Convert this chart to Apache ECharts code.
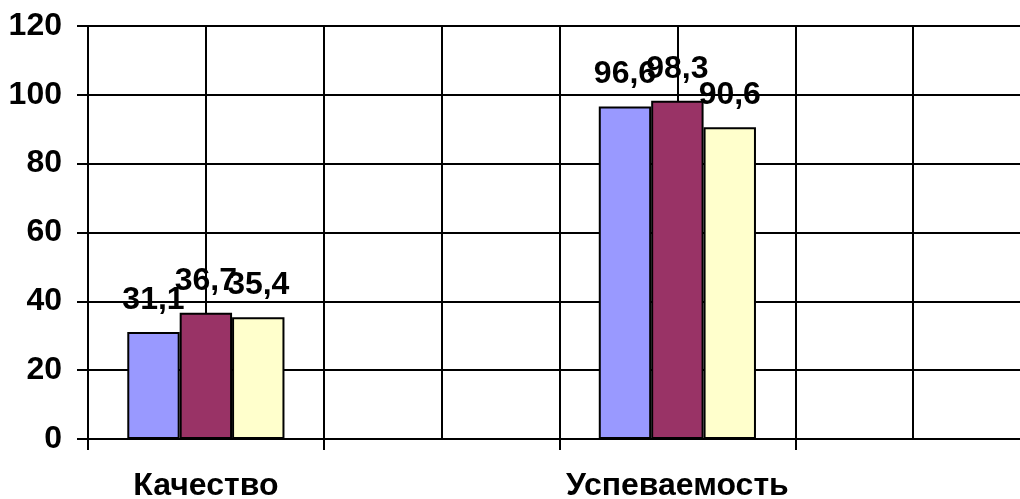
<!DOCTYPE html>
<html>
<head>
<meta charset="utf-8">
<script src="https://cdn.jsdelivr.net/npm/echarts@6/dist/echarts.min.js"></script>
<style>
html,body{margin:0;padding:0;background:#fff;}
#chart{width:1020px;height:499px;}
</style>
</head>
<body>
<div id="chart"></div>
<script>
var categories = ['Качество', '', 'Успеваемость', ''];
var seriesNames = ['Ряд 1', 'Ряд 2', 'Ряд 3'];
var series1 = [31.1, null, 96.6, null];
var series2 = [36.7, null, 98.3, null];
var series3 = [35.4, null, 90.6, null];
var gridCells = ['', '', '', '', '', '', '', ''];
var yTicks = { min: 0, max: 120, interval: 20 };
var colors = ['#9999FF', '#993366', '#FFFFCC'];

var FONT = '"Liberation Sans", Arial, sans-serif';
var FS = 32;
var labelStyle = {
  show: true,
  position: 'top',
  distance: 16,
  fontFamily: FONT,
  fontWeight: 'bold',
  fontSize: FS,
  color: '#000',
  formatter: function (p) { return String(p.value).replace('.', ','); }
};

function mk(name, data, color) {
  return {
    name: name,
    type: 'bar',
    data: data,
    xAxisIndex: 0,
    barGap: '0%',
    barCategoryGap: '33.33%',
    itemStyle: { color: color, borderColor: '#000', borderWidth: 2 },
    label: labelStyle,
    animation: false
  };
}

var chart = echarts.init(document.getElementById('chart'));
chart.setOption({
  backgroundColor: '#fff',
  animation: false,
  grid: { left: 88, top: 26, bottom: 60, width: 943, containLabel: false, outerBoundsMode: 'none' },
  xAxis: [
    {
      type: 'category',
      data: categories,
      boundaryGap: true,
      axisLine: { show: true, lineStyle: { color: '#000', width: 2 } },
      axisTick: { show: true, length: 11, alignWithLabel: false, lineStyle: { color: '#000', width: 2 } },
      axisLabel: { show: true, interval: 0, margin: 31, fontFamily: FONT, fontWeight: 'bold', fontSize: FS, color: '#000' },
      splitLine: { show: false }
    },
    {
      type: 'category',
      data: gridCells,
      boundaryGap: true,
      position: 'bottom',
      axisLine: { show: false },
      axisTick: { show: false },
      axisLabel: { show: false },
      splitLine: { show: true, interval: 0, lineStyle: { color: '#000', width: 2 } }
    }
  ],
  yAxis: {
    type: 'value',
    min: yTicks.min,
    max: yTicks.max,
    interval: yTicks.interval,
    axisLine: { show: true, lineStyle: { color: '#000', width: 2 } },
    axisTick: { show: true, length: 11, lineStyle: { color: '#000', width: 2 } },
    axisLabel: { margin: 26, fontFamily: FONT, fontWeight: 'bold', fontSize: FS, color: '#000' },
    splitLine: { show: true, lineStyle: { color: '#000', width: 2 } }
  },
  series: [
    mk(seriesNames[0], series1, colors[0]),
    mk(seriesNames[1], series2, colors[1]),
    mk(seriesNames[2], series3, colors[2])
  ]
});
</script>
</body>
</html>
